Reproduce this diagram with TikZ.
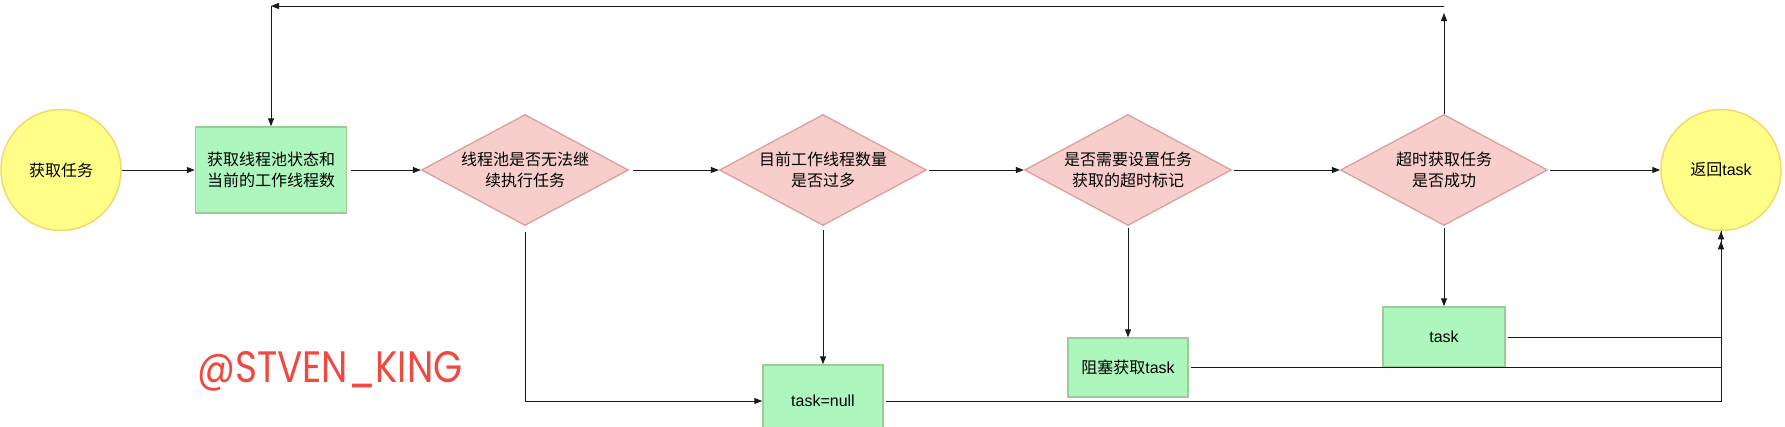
\documentclass[tikz,border=0pt]{standalone}
\usepackage{fontspec}
\setmainfont{Liberation Sans}
\newfontfamily\cjk{Noto Sans CJK SC}
\newfontfamily\wmfont{Poppins}
\usetikzlibrary{shapes.geometric,arrows.meta}
\definecolor{yfill}{HTML}{FFFF88}
\definecolor{ydraw}{HTML}{F5D76E}
\definecolor{gfill}{HTML}{ADF7BE}
\definecolor{gdraw}{HTML}{9CCC98}
\definecolor{rfill}{HTML}{F8CECC}
\definecolor{rdraw}{HTML}{D9A0A0}
\definecolor{wmred}{HTML}{F04A40}
\definecolor{lin}{HTML}{1A1A1A}
\tikzset{
 txt/.style={font=\fontsize{16}{21}\selectfont, text=black, align=center},
 zh/.style={font=\cjk\fontsize{16}{21}\selectfont},
 term/.style={txt, ellipse, draw=ydraw, fill=yfill, line width=1.5pt, minimum width=120pt, minimum height=121pt, inner sep=0pt},
 proc/.style={txt, rectangle, draw=gdraw, fill=gfill, line width=1.5pt, inner sep=0pt},
 dec/.style={txt, diamond, draw=rdraw, fill=rfill, line width=1.3pt, inner sep=0pt, shape aspect=1.865, minimum width=207pt, minimum height=111pt},
 arr/.style={draw=lin, line width=1pt, -{Triangle[length=8pt,width=6pt]}},
 ln/.style={draw=lin, line width=1pt},
}
\begin{document}
\begin{tikzpicture}[x=1pt,y=-1pt]
\useasboundingbox (0,0) rectangle (1785,426);
\clip (0,0) rectangle (1785,426);
\node[term, zh] (start) at (61,170) {获取任务};
\node[proc, zh, minimum width=151pt, minimum height=86pt] (state) at (271,170) {获取线程池状态和\\当前的工作线程数};
\node[dec, zh] (d1) at (525,170) {线程池是否无法继\\续执行任务};
\node[dec, zh] (d2) at (823,170) {目前工作线程数量\\是否过多};
\node[dec, zh] (d3) at (1128,170) {是否需要设置任务\\获取的超时标记};
\node[dec, zh] (d4) at (1444,170) {超时获取任务\\是否成功};
\node[term] (ret) at (1721,170) {{\cjk 返回}task};
\node[proc, minimum width=120pt, minimum height=72pt] (tn) at (823,401) {task=null};
\node[proc, minimum width=120pt, minimum height=59pt] (bk) at (1128,367.5) {{\cjk 阻塞获取}task};
\node[proc, minimum width=122pt, minimum height=60pt] (tk) at (1444,337) {task};
\node[font=\wmfont\fontsize{44}{50}\selectfont, text=wmred, anchor=base west, inner sep=0pt] (wm) at (197,382) {\scalebox{0.85}[1]{@STVEN\_KING}};
\coordinate (up) at (1444,13);
\coordinate (tr) at (1444,6);
\coordinate (tl) at (271,6);
\draw[arr] (start) -- (state);
\draw[arr, shorten <=4pt] (state) -- (d1);
\draw[arr, shorten <=4pt] (d1) -- (d2);
\draw[arr, shorten <=2pt] (d2) -- (d3);
\draw[arr, shorten <=2pt] (d3) -- (d4);
\draw[arr, shorten <=2pt] (d4) -- (ret);
\draw[arr, shorten <=6pt] (d1.south) |- (tn.west);
\draw[arr, shorten <=4pt] (d2) -- (tn);
\draw[arr, shorten <=2pt] (d3) -- (bk);
\draw[arr, shorten <=2pt] (d4) -- (tk);
\draw[arr] (d4.north) -- (up);
\draw[arr] (tr) -- (tl);
\draw[arr] (tl) -- (state);
\draw[ln, shorten <=2pt] (tk.east) -| (ret.south);
\draw[arr, shorten <=2pt] (bk.east) -| ([yshift=-10pt]ret.south);
\draw[arr, shorten <=2pt] (tn.east) -| (ret.south);
\end{tikzpicture}
\end{document}
